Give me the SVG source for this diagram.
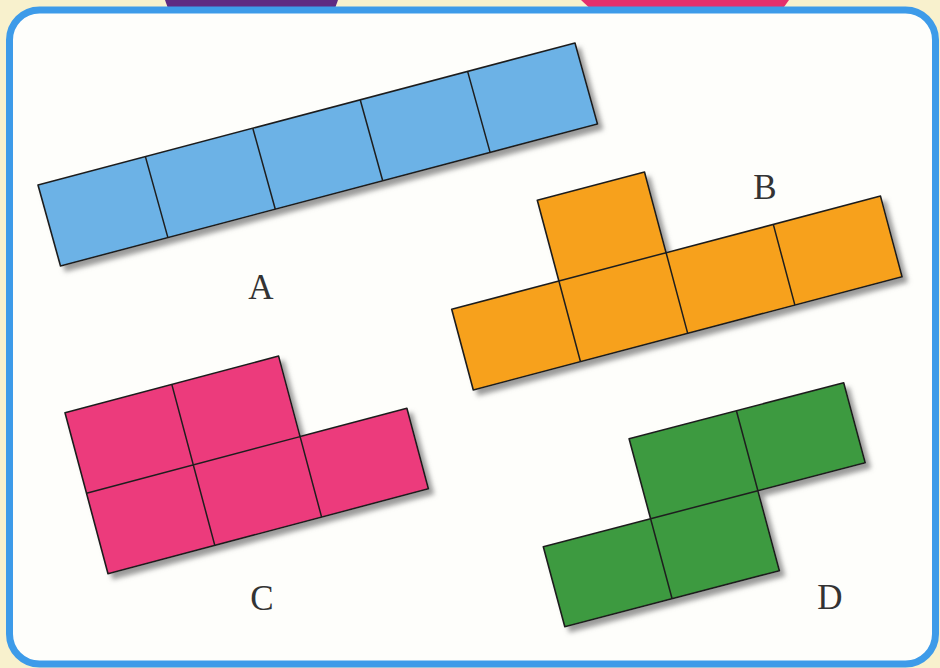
<svg xmlns="http://www.w3.org/2000/svg" width="940" height="668" viewBox="0 0 940 668">
<defs>
<filter id="sh" x="-10%" y="-10%" width="130%" height="130%">
<feDropShadow dx="5" dy="5" stdDeviation="2.5" flood-color="#7a7a7a" flood-opacity="0.75"/>
</filter>
<style>
.out{stroke:#1e1e1e;stroke-width:1.6;stroke-linejoin:round;filter:url(#sh)}
.in{stroke:#1e1e1e;stroke-width:1.5;fill:none}
.lbl{font-family:"Liberation Serif","Times New Roman",serif;font-size:35px;fill:#333;text-anchor:middle}
</style>
</defs>
<rect x="0" y="0" width="940" height="668" fill="#f8f1cd"/>
<path d="M165,0 L338,0 L333,14 L170,14 Z" fill="#5e2a82"/>
<path d="M581,0 L789,0 L779,14 L596,14 Z" fill="#e42f6c"/>
<rect x="9.5" y="10" width="926" height="654" rx="30" ry="30" fill="#fefefb" stroke="#3d9be9" stroke-width="7"/>

<g id="shapeA">
<polygon class="out" fill="#6cb2e6" points="38,185 575,43 597.5,124 60.5,266"/>
<path class="in" d="M145.4,156.6 L167.9,237.6 M252.8,128.2 L275.3,209.2 M360.2,99.8 L382.7,180.8 M467.6,71.4 L490.1,152.4"/>
<text class="lbl" x="261" y="299">A</text>
</g>

<g id="shapeB">
<polygon class="out" fill="#f7a11c" points="451.7,309.3 558.9,281 537.3,200.3 644.5,172 666.1,252.7 880.5,196.1 902.1,276.8 473.3,390"/>
<path class="in" d="M558.9,281 L666.1,252.7 M558.9,281 L580.5,361.7 M666.1,252.7 L687.7,333.4 M773.3,224.4 L794.9,305.1"/>
<text class="lbl" x="765" y="199">B</text>
</g>

<g id="shapeC">
<polygon class="out" fill="#ec3a7c" points="65,412.7 278.6,356.1 300.1,436.6 406.9,408.3 428.4,488.8 108,573.7"/>
<path class="in" d="M86.5,493.2 L300.1,436.6 M171.8,384.4 L214.8,545.4 M300.1,436.6 L321.6,517.1"/>
<text class="lbl" x="262" y="610">C</text>
</g>

<g id="shapeD">
<polygon class="out" fill="#3d9a3f" points="629.1,438.7 843.7,382.7 865.2,462.7 757.9,490.7 779.4,570.7 564.8,626.7 543.3,546.7 650.6,518.7"/>
<path class="in" d="M650.6,518.7 L757.9,490.7 M736.4,410.7 L757.9,490.7 M650.6,518.7 L672.1,598.7"/>
<text class="lbl" x="830" y="609">D</text>
</g>
</svg>
